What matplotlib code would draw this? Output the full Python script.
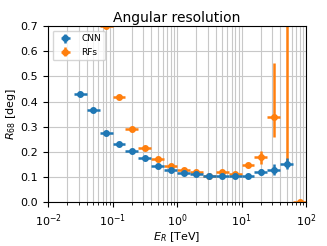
import numpy as np
import matplotlib
matplotlib.use('Agg')
import matplotlib.pyplot as plt

# bin centres, 5 per decade
e_cnn = 10 ** np.arange(-1.5, 1.8, 0.2)
r_cnn = [0.430, 0.368, 0.275, 0.231, 0.203, 0.175, 0.143, 0.128, 0.116,
         0.112, 0.105, 0.105, 0.103, 0.105, 0.120, 0.130, 0.153]
rerr_cnn = [0.006, 0.006, 0.006, 0.006, 0.006, 0.006, 0.006, 0.006, 0.006,
            0.006, 0.006, 0.006, 0.006, 0.008, 0.012, 0.022, 0.022]

e_rf = 10 ** np.arange(-1.1, 2.0, 0.2)
r_rf = [0.700, 0.417, 0.292, 0.215, 0.172, 0.143, 0.127, 0.120,
        0.105, 0.120, 0.113, 0.148, 0.180, 0.338, 0.900, 0.0]
rerr_rf_lo = [0.006, 0.006, 0.006, 0.006, 0.008, 0.006, 0.006, 0.006,
              0.006, 0.006, 0.006, 0.008, 0.028, 0.080, 0.740, 0.004]
rerr_rf_hi = [0.006, 0.006, 0.006, 0.006, 0.008, 0.006, 0.006, 0.006,
              0.006, 0.006, 0.006, 0.008, 0.025, 0.215, 0.300, 0.004]


def bin_err(e):
    lo = e - e / 10 ** 0.1
    hi = e * 10 ** 0.1 - e
    return [lo, hi]


fig, ax = plt.subplots(figsize=(3.27, 2.46), dpi=100)
ax.errorbar(e_cnn, r_cnn, xerr=bin_err(e_cnn), yerr=rerr_cnn, fmt='o',
            ms=4, elinewidth=1.8, color='C0', label='CNN', zorder=3)
ax.errorbar(e_rf, r_rf, xerr=bin_err(e_rf), yerr=[rerr_rf_lo, rerr_rf_hi],
            fmt='o', ms=4, elinewidth=1.8, color='C1', label='RFs', zorder=2)

ax.set_xscale('log')
ax.set_xlim(1e-2, 1e2)
ax.set_ylim(0, 0.7)
ax.grid(True, which='both', axis='x', color='#c8c8c8', lw=0.8)
ax.grid(True, which='major', axis='y', color='#c8c8c8', lw=0.8)
ax.set_axisbelow(True)
ax.set_title('Angular resolution', fontsize=10, pad=3)
ax.set_xlabel('$E_R$ [TeV]', fontsize=8, labelpad=1)
ax.set_ylabel('$R_{68}$ [deg]', fontsize=8, labelpad=2)
ax.tick_params(labelsize=8)
ax.legend(loc='upper left', fontsize=6.5)

fig.subplots_adjust(left=0.147, right=0.936, top=0.894, bottom=0.178)
fig.savefig('out.png', dpi=100)
